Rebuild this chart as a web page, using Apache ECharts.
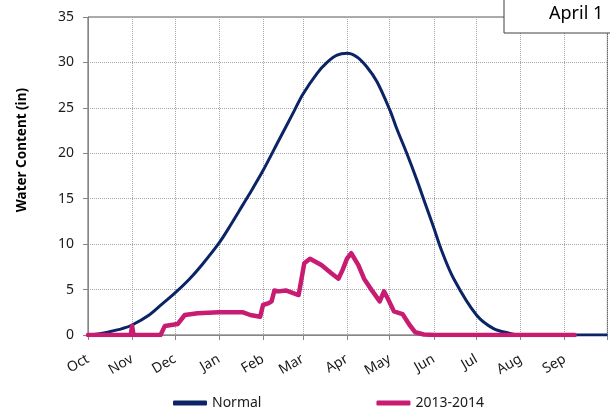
<!DOCTYPE html>
<html>
<head>
<meta charset="utf-8">
<script src="https://cdn.jsdelivr.net/npm/echarts@6/dist/echarts.min.js"></script>
<style>
html,body{margin:0;padding:0;background:#fff;}
#c{width:610px;height:409px;}
</style>
</head>
<body>
<div id="c"></div>
<script>
// ---- data ----
var monthLabels = ['Oct','Nov','Dec','Jan','Feb','Mar','Apr','May','Jun','Jul','Aug','Sep'];
var yTicks = [0,5,10,15,20,25,30,35];

var normalDates = ['2013-10-01','2013-10-08','2013-10-16','2013-10-25','2013-11-01','2013-11-13','2013-11-22','2013-12-01',
  '2013-12-11','2013-12-20','2014-01-01','2014-01-10','2014-01-15','2014-01-22','2014-02-01','2014-02-11','2014-02-23',
  '2014-03-01','2014-03-11','2014-03-18','2014-03-25','2014-04-01','2014-04-08','2014-04-15','2014-04-22','2014-05-01',
  '2014-05-06','2014-05-13','2014-05-20','2014-05-27','2014-06-01','2014-06-06','2014-06-15','2014-07-01','2014-07-13',
  '2014-07-24','2014-08-01','2014-10-01'];
var normalValues = [0,0.1,0.35,0.7,1.1,2.2,3.4,4.6,
  6.1,7.7,10.1,12.3,13.6,15.4,18.1,21.1,24.7,
  26.5,28.8,30.0,30.8,31.0,30.6,29.5,27.9,24.8,
  22.7,20.0,17.1,14.0,11.8,9.5,6.2,2.2,0.7,
  0.2,0,0];

var seasonDates = ['2013-10-01','2013-10-31','2013-11-01','2013-11-02','2013-11-21','2013-11-24','2013-12-03','2013-12-08',
  '2013-12-17','2014-01-01','2014-01-18','2014-01-23','2014-01-30','2014-02-01','2014-02-05','2014-02-07','2014-02-09',
  '2014-02-12','2014-02-17','2014-02-26','2014-03-02','2014-03-06','2014-03-14','2014-03-21','2014-03-26','2014-03-29',
  '2014-04-01','2014-04-04','2014-04-09','2014-04-13','2014-04-19','2014-04-24','2014-04-27','2014-04-30','2014-05-04',
  '2014-05-10','2014-05-15','2014-05-19','2014-05-25','2014-06-02','2014-09-08'];
var seasonValues = [0,0,1.0,0,0,1.0,1.2,2.2,
  2.4,2.5,2.5,2.2,2.0,3.3,3.5,3.7,4.9,
  4.8,4.9,4.4,7.9,8.4,7.7,6.8,6.2,7.2,
  8.4,9.0,7.7,6.2,4.8,3.7,4.8,3.9,2.6,
  2.3,1.1,0.3,0.05,0,0];

var seriesNames = ['Normal','2013-2014'];
var boxLabel = 'April 1';
var yTitle = 'Water Content (in)';

function pairs(d, v){ return d.map(function(x,i){ return [x, v[i]]; }); }

var chart = echarts.init(document.getElementById('c'));
var FONT = 'Noto Sans';
chart.setOption({
  animation: false,
  textStyle: { fontFamily: FONT },
  grid: { left: 88, top: 17, right: -3, bottom: 74, show: true, borderColor: '#595959', borderWidth: 1 },
  legend: {
    data: seriesNames,
    top: 391, left: 168,
    icon: 'roundRect', itemWidth: 34, itemHeight: 5, itemGap: 115,
    textStyle: { fontSize: 14, color: '#1a1a1a', fontFamily: FONT }
  },
  xAxis: {
    type: 'time',
    min: '2013-10-01', max: '2014-10-01',
    splitNumber: 12,
    minInterval: 28*86400000, maxInterval: 31*86400000,
    axisLine: { lineStyle: { color: '#868686' } },
    axisTick: { show: true, length: 5, lineStyle: { color: '#868686' } },
    splitLine: { show: true, lineStyle: { color: '#a6a6a6', type: 'dotted' } },
    axisLabel: {
      rotate: 30, margin: 23, fontSize: 14, color: '#1a1a1a', fontFamily: FONT,
      showMaxLabel: false, showMinLabel: true,
      formatter: function(val){
        var d = new Date(val);
        if (d.getFullYear() === 2014 && d.getMonth() === 9) return '';
        return monthLabels[(d.getMonth() + 3) % 12];
      }
    }
  },
  yAxis: {
    type: 'value', min: yTicks[0], max: yTicks[yTicks.length-1], interval: 5,
    axisLine: { show: true, lineStyle: { color: '#868686' } },
    axisTick: { show: true, length: 5, lineStyle: { color: '#868686' } },
    splitLine: { lineStyle: { color: '#a6a6a6', type: 'dotted' } },
    axisLabel: { margin: 14, fontSize: 14, color: '#1a1a1a', fontFamily: FONT }
  },
  graphic: [
    { type: 'text', left: 15, top: 88, rotation: Math.PI/2, z: 10,
      style: { text: yTitle, font: 'bold 13.5px "Noto Sans"', fill: '#000' } },
    { type: 'rect', z: 20, shape: { x: 504, y: -2, width: 130, height: 35 },
      style: { fill: '#fff', stroke: '#404040', lineWidth: 1 } },
    { type: 'text', z: 21, x: 549, y: 14,
      style: { text: boxLabel, font: '18px "Noto Sans"', fill: '#000', textVerticalAlign: 'middle' } }
  ],
  series: [
    { name: seriesNames[0], type: 'line', data: pairs(normalDates, normalValues), smooth: 0.35,
      showSymbol: false, symbol: 'none', z: 3,
      lineStyle: { color: '#0b2466', width: 3 }, itemStyle: { color: '#0b2466' } },
    { name: seriesNames[1], type: 'line', data: pairs(seasonDates, seasonValues), smooth: false,
      showSymbol: false, symbol: 'none', z: 4,
      lineStyle: { color: '#c81b72', width: 4.5, join: 'round', cap: 'round' }, itemStyle: { color: '#c81b72' } }
  ]
});
</script>
</body>
</html>
